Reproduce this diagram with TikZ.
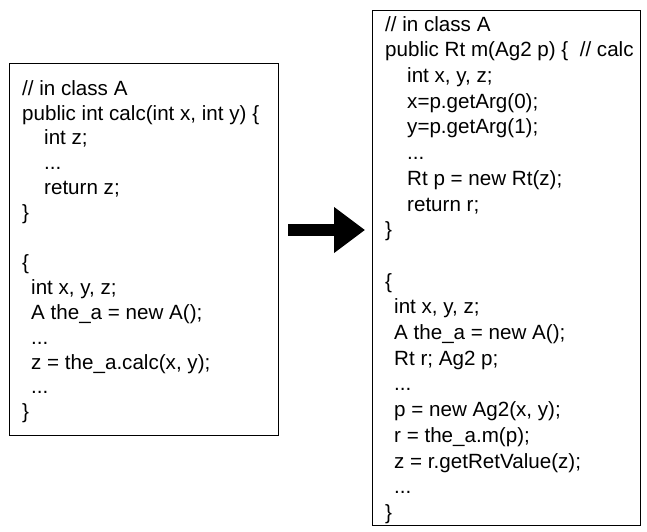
\documentclass[tikz,border=0pt]{standalone}
\usepackage{fontspec}
\setmainfont{Liberation Sans}
\usetikzlibrary{arrows.meta}
\begin{document}
\begin{tikzpicture}[x=1pt,y=1pt,
  codebox/.style={draw=black, line width=1.3pt, anchor=north west, inner sep=0pt},
  code/.style={anchor=north west, inner sep=0pt, align=left},
  bigarrow/.style={line width=12pt, -{Triangle[length=31pt,width=44pt]},
    shorten <=9pt, shorten >=7pt}]
\useasboundingbox (0,0) rectangle (647,-531);
\node[codebox, minimum width=269pt, minimum height=372pt] (lbox) at (9,-63) {};
\node[codebox, minimum width=268pt, minimum height=515pt] (rbox) at (372,-10) {};
\node[code, font=\fontsize{20.6}{24.9}\selectfont] (ltext) at ([shift={(13,-17)}]lbox.north west)
{// in class A\\
public int calc(int x, int y) \{\\
\hspace*{22pt}int z;\\
\hspace*{22pt}...\\
\hspace*{22pt}return z;\\
\}\\
\mbox{}\\
\{\\
\hspace*{9pt}int x, y, z;\\
\hspace*{9pt}A the\_a = new A();\\
\hspace*{9pt}...\\
\hspace*{9pt}z = the\_a.calc(x, y);\\
\hspace*{9pt}...\\
\}};
\node[code, font=\fontsize{20.6}{25.7}\selectfont] (rtext) at ([shift={(13,-6)}]rbox.north west)
{// in class A\\
public Rt m(Ag2 p) \{\ \ // calc\\
\hspace*{22pt}int x, y, z;\\
\hspace*{22pt}x=p.getArg(0);\\
\hspace*{22pt}y=p.getArg(1);\\
\hspace*{22pt}...\\
\hspace*{22pt}Rt p = new Rt(z);\\
\hspace*{22pt}return r;\\
\}\\
\mbox{}\\
\{\\
\hspace*{9pt}int x, y, z;\\
\hspace*{9pt}A the\_a = new A();\\
\hspace*{9pt}Rt r; Ag2 p;\\
\hspace*{9pt}...\\
\hspace*{9pt}p = new Ag2(x, y);\\
\hspace*{9pt}r = the\_a.m(p);\\
\hspace*{9pt}z = r.getRetValue(z);\\
\hspace*{9pt}...\\
\}};
\coordinate (ay) at (0,-230);
\draw[bigarrow] (lbox.east |- ay) -- (rbox.west |- ay);
\end{tikzpicture}
\end{document}
